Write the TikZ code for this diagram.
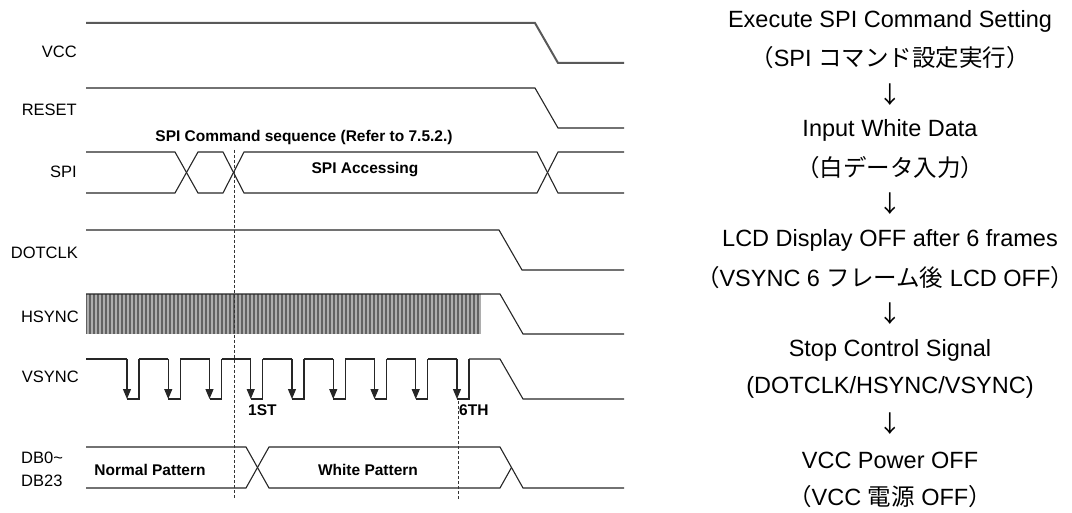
\documentclass[tikz,border=0pt]{standalone}
\usepackage{fontspec}
\setmainfont{Liberation Sans}
\newfontfamily\jpfont{Noto Sans CJK JP}
\usetikzlibrary{arrows.meta,positioning}
\newcommand\jpl{\makebox[0.5em][r]{\jpfont （}}
\newcommand\jpr{\makebox[0.5em][l]{\jpfont ）}}

\begin{document}
\begin{tikzpicture}[x=1pt,y=-1pt]
\tikzstyle{sig}=[line width=1.1pt,draw=black!85]
\tikzstyle{lbl}=[anchor=east,inner sep=0pt,font=\fontsize{16.5}{18}\selectfont]
\tikzstyle{bold}=[inner sep=0pt,font=\fontsize{15.5}{18}\selectfont\bfseries]
\tikzstyle{flow}=[inner sep=0pt,node distance=36.6pt,
font=\fontsize{23.5}{26}\selectfont]
\tikzstyle{guide}=[line width=0.7pt,draw=black!80,dash pattern=on 3pt off 2pt]
\tikzstyle{vfall}=[sig,-{Triangle[width=8pt,length=10pt]}]

\useasboundingbox (0,0) rectangle (1072,513);

% signal names
\node[lbl] at (77,52) (vcc) {VCC};
\node[lbl] at (77,110) (rst) {RESET};
\node[lbl] at (77,172) (spi) {SPI};
\node[lbl] at (78,253) (dclk) {DOTCLK};
\node[lbl] at (79,317) (hs) {HSYNC};
\node[lbl] at (79,377) (vs) {VSYNC};
\node[lbl,anchor=west] at (21,458) (db0) {DB0\textasciitilde};
\node[lbl,anchor=west] at (21,481) (db23) {DB23};

% VCC / RESET
\draw[sig,line width=2pt,draw=black!65] (86,23) -- (535,23) -- (558,63) -- (624,63);
\draw[sig] (86,88) -- (535,88) -- (558,128) -- (624,128);

% SPI
\draw[sig] (86,152) -- (175,152) -- (198,193) -- (223,193) -- (244,152) -- (537,152) -- (558,193) -- (624,193);
\draw[sig] (86,193) -- (175,193) -- (198,152) -- (223,152) -- (244,193) -- (537,193) -- (558,152) -- (624,152);
\node[bold] at (304,137) (seq) {SPI Command sequence (Refer to 7.5.2.)};
\node[bold] at (365,170) (acc) {SPI Accessing};

% DOTCLK
\draw[sig] (86,230) -- (499,230) -- (522,270) -- (624,270);

% HSYNC
\fill[black!62] (86,294) rectangle (481,334);
\foreach \i in {0,...,98}
  \draw[black!32,line width=1.3pt] (88+4*\i,294) -- (88+4*\i,334);
\draw[sig] (86,294) -- (500,294) -- (523,334) -- (624,334);

% VSYNC
\draw[sig] (86,359) -- (127,359);
\foreach \i in {0,...,8}{
  \pgfmathsetmacro\f{127+41.25*\i}
  \draw[vfall] (\f,359) -- (\f,399);
  \draw[sig] (\f,399) -- ++(12,0) -- ++(0,-40);
}
\foreach \i in {0,...,7}
  \draw[sig] (139+41.25*\i,359) -- (168.25+41.25*\i,359);
\draw[sig] (469,359) -- (500,359) -- (523,399) -- (624,399);
\node[bold,anchor=west] at (248,410) (first) {1ST};
\node[bold,anchor=west] at (459,410) (sixth) {6TH};

% DB0~DB23
\draw[sig] (86,447) -- (246,447) -- (269,488) -- (500,488) -- (511.5,467.5);
\draw[sig] (86,488) -- (246,488) -- (269,447) -- (500,447) -- (523,488) -- (624,488);
\node[bold] at (150,470) (norm) {Normal Pattern};
\node[bold] at (368,470) (white) {White Pattern};

% guides
\draw[guide] (234,150) -- (234,499);
\draw[guide] (458,401) -- (458,499);

% sequence on the right
\node[flow] at (890,21) (r1) {Execute SPI Command Setting};
\node[flow,below of=r1] (r2) {\jpl SPI {\jpfont コマンド設定実行}\jpr};
\node[flow,below of=r2] (r3) {\jpfont ↓};
\node[flow,below of=r3] (r4) {Input White Data};
\node[flow,below of=r4] (r5) {\jpl{\jpfont 白データ入力}\jpr};
\node[flow,below of=r5] (r6) {\jpfont ↓};
\node[flow,below of=r6] (r7) {LCD Display OFF after 6 frames};
\node[flow,below of=r7,xshift=-5pt] (r8) {\jpl VSYNC 6 {\jpfont フレーム後} LCD OFF\jpr};
\node[flow,below of=r7,yshift=-36.6pt] (r9) {\jpfont ↓};
\node[flow,below of=r9] (r10) {Stop Control Signal};
\node[flow,below of=r10] (r11) {(DOTCLK/HSYNC/VSYNC)};
\node[flow,below of=r11] (r12) {\jpfont ↓};
\node[flow,below of=r12] (r13) {VCC Power OFF};
\node[flow,below of=r13] (r14) {\jpl VCC {\jpfont 電源} OFF\jpr};

\end{tikzpicture}
\end{document}
